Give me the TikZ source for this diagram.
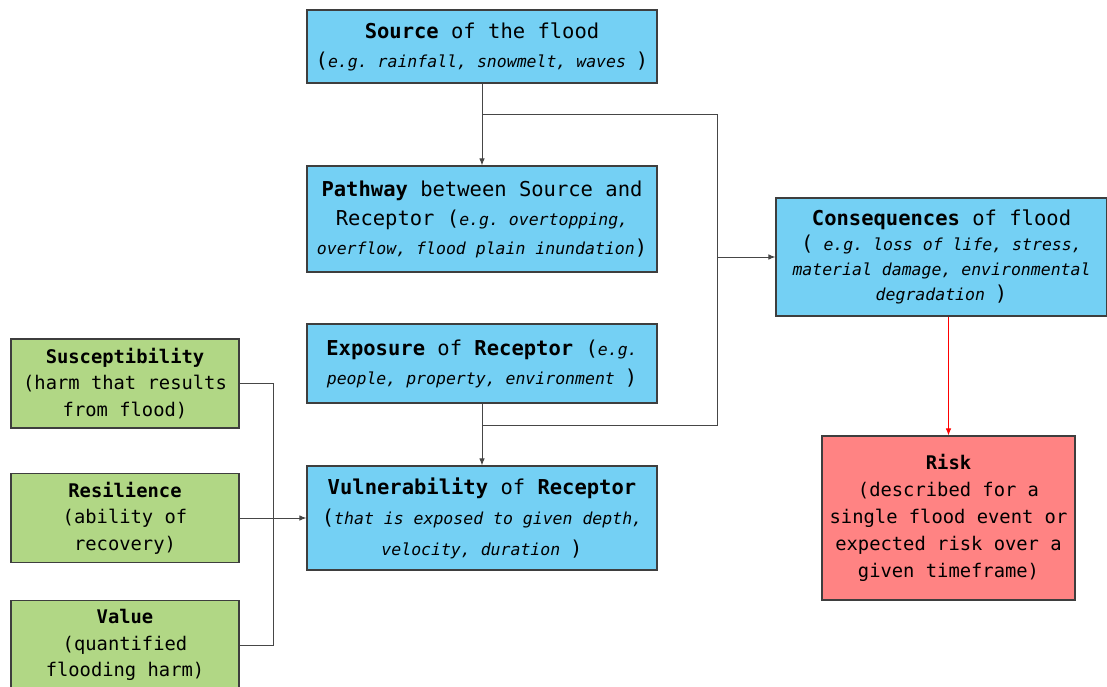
\documentclass[tikz,border=0pt]{standalone}
\usepackage{fontspec}
\setmainfont{DejaVu Sans Mono}
\usetikzlibrary{arrows.meta}

\definecolor{skyfill}{RGB}{116,208,244}
\definecolor{leaffill}{RGB}{177,215,133}
\definecolor{riskfill}{RGB}{255,131,131}
\definecolor{edge}{RGB}{62,62,62}
\definecolor{wire}{RGB}{70,70,70}

% a word space as wide as one character cell, without stretch or shrink
\newcommand\cellspace{\spaceskip=0.602em\relax \xspaceskip=0.602em\relax}
% smaller oblique text for the examples in brackets
\newcommand\egtext[1]{{\fontsize{16.5}{20}\selectfont\itshape\cellspace #1}}

\tikzset{
  box/.style={draw=edge, line width=1.1pt, inner sep=2pt, align=center,
              execute at begin node=\cellspace},
  sky/.style={box, fill=skyfill, minimum width=350pt, text width=346pt,
              font=\fontsize{20.5}{29}\selectfont},
  leaf/.style={box, fill=leaffill, minimum width=228pt, minimum height=89pt,
               text width=224pt, font=\fontsize{18.8}{26.5}\selectfont},
  hazard/.style={box, fill=riskfill, minimum width=253pt, minimum height=164pt,
                 text width=249pt, font=\fontsize{18.8}{27}\selectfont},
  wirestyle/.style={draw=wire, line width=1pt},
  arr/.style={wirestyle, -{Latex[length=7pt,width=5.5pt]}},
}

\begin{document}
\begin{tikzpicture}[x=1pt, y=-1pt]
\useasboundingbox (0,0) rectangle (1107,687);
\clip (0,0) rectangle (1107,687);

% central chain
\node[sky, minimum height=73pt] (src) at (482,46.5)
  {\textbf{Source} of the flood\\(\egtext{e.g. rainfall, snowmelt, waves })};
\node[sky, minimum height=106pt] (path) at (482,219)
  {\textbf{Pathway} between Source and\\Receptor (\egtext{e.g. overtopping,}\\\egtext{overflow, flood plain inundation})};
\node[sky, minimum height=79pt] (expo) at (482,363.5)
  {\textbf{Exposure} of \textbf{Receptor} (\egtext{e.g.}\\\egtext{people, property, environment })};
\node[sky, minimum height=104pt, font=\fontsize{20.5}{30.5}\selectfont] (vuln) at (482,518)
  {\textbf{Vulnerability} of \textbf{Receptor}\\(\egtext{that is exposed to given depth,}\\\egtext{velocity, duration })};

% outcome side
\node[sky, minimum width=329pt, text width=327pt, minimum height=118pt,
      font=\fontsize{20.5}{25}\selectfont] (cons) at (941.5,257)
  {\textbf{Consequences} of flood\\(\egtext{ e.g. loss of life, stress,}\\\egtext{material damage, environmental}\\\egtext{degradation })};
\node[hazard] (risk) at (948.5,518)
  {\textbf{Risk}\\(described for a\\single flood event or\\expected risk over a\\given timeframe)};

% vulnerability factors
\node[leaf] (sus) at (125,383.5)
  {\textbf{Susceptibility}\\(harm that results\\from flood)};
\node[leaf] (res) at (125,518)
  {\textbf{Resilience}\\(ability of\\recovery)};
\node[leaf] (val) at (125,645)
  {\textbf{Value}\\(quantified\\flooding harm)};

% connectors
\coordinate (ja) at (482,115);
\coordinate (jb) at (717,115);
\coordinate (jc) at (717,425);
\coordinate (jd) at (482,425);
\coordinate (bus) at (273,383.5);

\draw[arr] (src.south) -- (path.north);
\draw[wirestyle] (ja) -- (jb) -- (jc) -- (jd);
\draw[arr] (jb |- cons.west) -- (cons.west);
\draw[arr] (expo.south) -- (vuln.north);

\draw[wirestyle] (sus.east) -- (bus) |- (val.east);
\draw[arr] (res.east) -- (vuln.west);

\draw[arr, draw=red] (risk.north |- cons.south) -- (risk.north);
\end{tikzpicture}
\end{document}
